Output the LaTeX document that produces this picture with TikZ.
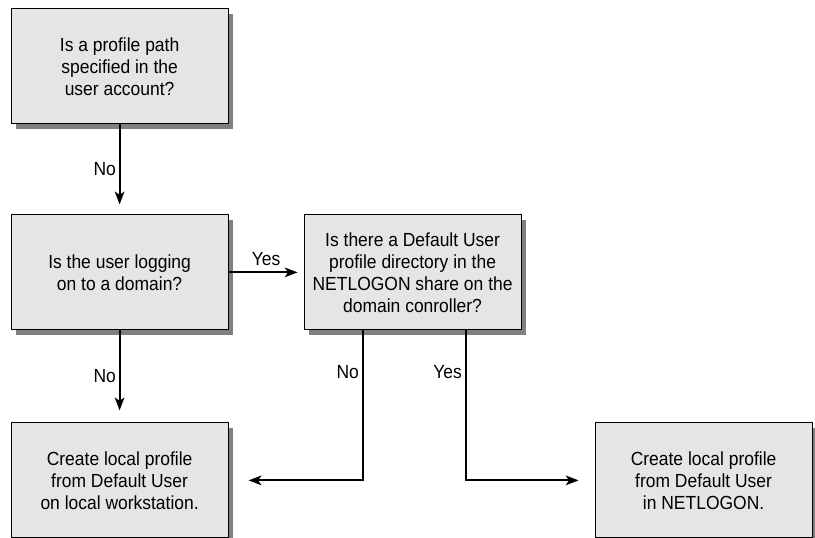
\documentclass[tikz,border=0pt]{standalone}
\usepackage{fontspec}
\setmainfont[FakeStretch=0.92]{Liberation Sans}
\usetikzlibrary{positioning, arrows.meta, shadows}

\begin{document}
\begin{tikzpicture}[
        box/.style={draw, rectangle, line width=0.7pt, align=center, minimum width=5.425cm, minimum height=2.875cm, fill=gray!20,
            drop shadow={shadow xshift=0.13cm, shadow yshift=-0.13cm, fill=gray, opacity=1},
            font=\fontsize{13.5}{15.6}\selectfont},
        arrow/.style={->, >={Stealth[length=3.2mm, width=2.4mm, inset=0.8mm]}, line width=1.3pt},
        lbl/.style={font=\fontsize{13.5}{15}\selectfont, inner sep=2pt}
    ]
    \useasboundingbox (0,0) rectangle (20.375,-13.45);
    \node[box] (profile) at (2.99,-1.66) {Is a profile path\\specified in the\\user account?};
    \node[box, below=2.25cm of profile] (domain) {Is the user logging\\on to a domain?};
    \node[box, right=1.875cm of domain] (netlogon) {Is there a Default User\\profile directory in the\\NETLOGON share on the\\domain conroller?};
    \node[box, below=2.3cm of domain] (localws) {Create local profile\\from Default User\\on local workstation.};
    \node[box, right=9.15cm of localws] (localnl) {Create local profile\\from Default User\\in NETLOGON.};

    \draw[arrow, shorten >=0.25cm] (profile) -- node[lbl, left] {No} (domain);
    \draw[arrow, shorten >=0.15cm] (domain) -- node[lbl, above, yshift=2pt] {Yes} (netlogon);
    \draw[arrow, shorten >=0.3cm] (domain) -- node[lbl, left] {No} (localws);
    \draw[arrow, shorten >=0.5cm] ([xshift=-1.25cm]netlogon.south) |- node[lbl, left, pos=0.14] {No} (localws.east);
    \draw[arrow, shorten >=0.4cm] ([xshift=1.325cm]netlogon.south) |- node[lbl, left, pos=0.14] {Yes} (localnl.west);
\end{tikzpicture}
\end{document}
